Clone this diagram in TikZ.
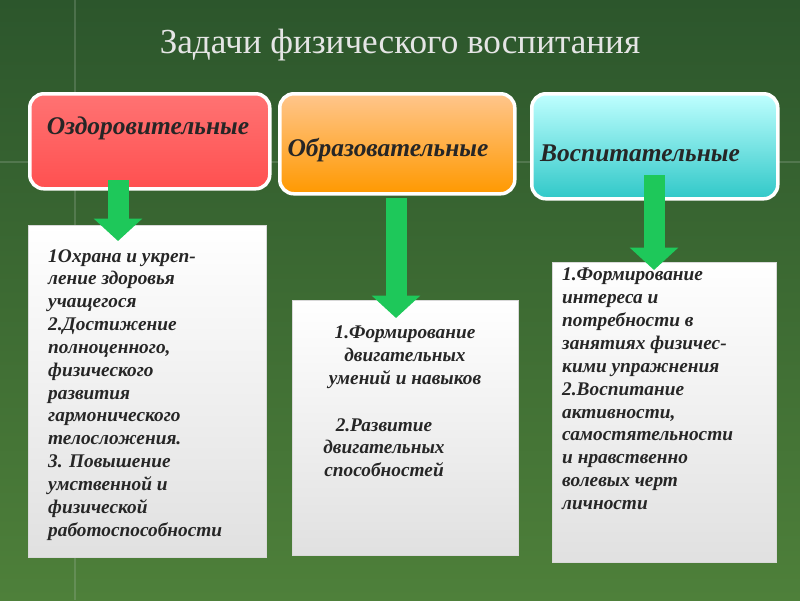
\documentclass[tikz,border=0pt]{standalone}
\usepackage{fontspec}
\setmainfont{Liberation Serif}
\usetikzlibrary{positioning,arrows.meta}
\definecolor{bgtop}{RGB}{44,86,44}
\definecolor{bgbot}{RGB}{78,128,58}
\definecolor{arrowgreen}{RGB}{30,200,90}
\tikzset{
  headbox/.style={draw=white, line width=2pt, rounded corners=8pt, anchor=north west},
  headtext/.style={font=\bfseries\itshape\fontsize{14.5}{16}\selectfont, text=black!85},
  taskbox/.style={fill=white, top color=white, bottom color=black!12, anchor=north west, draw=black!15},
  tasktext/.style={font=\bfseries\itshape\fontsize{11}{13}\selectfont, text=black!85, align=left, anchor=north west},
  downarrow/.style={arrowgreen, line width=0.42cm, -{Triangle[width=0.95cm, length=0.45cm]}}
}
\begin{document}
\begin{tikzpicture}[x=0.02cm, y=-0.02cm]
  \shade[top color=bgtop, bottom color=bgbot] (0,0) rectangle (800,600);
  \useasboundingbox (0,0) rectangle (800,600);
  \draw[white!60!bgtop, line width=1pt, opacity=0.25] (75,0) -- (75,600);
  \draw[white!60!bgtop, line width=1pt, opacity=0.25] (0,162) -- (800,162);

  \node[text=white!90!black, font=\fontsize{20}{22}\selectfont] (title) at (400,45) {Задачи физического воспитания};

  % head boxes
  \node[headbox, top color=red!55!white, bottom color={rgb,255:red,255;green,80;blue,80}, minimum width=240*0.02cm, minimum height=95*0.02cm] (h1) at (28,92) {};
  \node[headbox, top color=orange!45!white, bottom color={rgb,255:red,255;green,153;blue,0}, minimum width=235*0.02cm, minimum height=100*0.02cm] (h2) at (278,92) {};
  \node[headbox, top color=cyan!25!white, bottom color={rgb,255:red,48;green,200;blue,200}, minimum width=246*0.02cm, minimum height=105*0.02cm] (h3) at (530,92) {};
  \node[headtext] (t1) at (148,128) {Оздоровительные};
  \node[headtext] (t2) at (388,150) {Образовательные};
  \node[headtext] (t3) at (640,153) {Воспитательные};

  % task boxes
  \node[taskbox, minimum width=238*0.02cm, minimum height=332*0.02cm] (b1) at (28,225) {};
  \node[taskbox, minimum width=226*0.02cm, minimum height=255*0.02cm] (b2) at (292,300) {};
  \node[taskbox, minimum width=224*0.02cm, minimum height=300*0.02cm] (b3) at (552,262) {};

  \node[tasktext] (l1) at (42,243) {1Охрана и укреп-\\ление здоровья\\учащегося\\2.Достижение\\полноценного,\\физического\\развития\\гармонического\\телосложения.\\3. Повышение\\умственной и\\физической\\работоспособности};
  \node[tasktext, align=center, anchor=north] (l2a) at (405,320) {1.Формирование\\двигательных\\умений и навыков};
  \node[tasktext, align=center, anchor=north] (l2b) at (384,412) {2.Развитие\\двигательных\\способностей};
  \node[tasktext] (l3) at (556,262) {1.Формирование\\интереса и\\потребности в\\занятиях физичес-\\кими упражнения\\2.Воспитание\\активности,\\самостятельности\\и нравственно\\волевых черт\\личности};

  % arrows
  \coordinate (a1) at (118,180);
  \coordinate (a2) at (396,198);
  \coordinate (a3) at (654,175);
  \draw[downarrow] (a1) -- (a1 |- 0,241);
  \draw[downarrow] (a2) -- (a2 |- 0,318);
  \draw[downarrow] (a3) -- (a3 |- 0,270);
\end{tikzpicture}
\end{document}
